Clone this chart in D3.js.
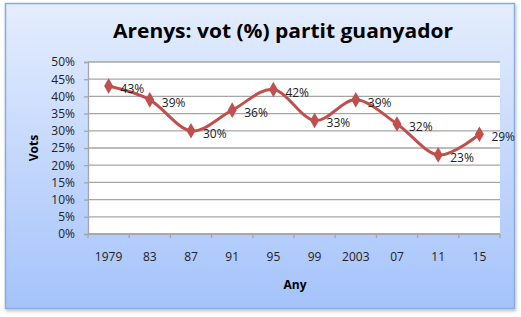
<!DOCTYPE html>
<html><head><meta charset="utf-8">
<script src="https://cdn.jsdelivr.net/npm/d3@7"></script>
<style>html,body{margin:0;padding:0;background:#fff;}svg{display:block;}</style>
</head><body>
<svg id="c" width="521" height="317"></svg>
<script>
const categories = ["1979","83","87","91","95","99","2003","07","11","15"];
const values = [43, 39, 30, 36, 42, 33, 39, 32, 23, 29];
const yTicks = [0,5,10,15,20,25,30,35,40,45,50];
const title = "Arenys: vot (%) partit guanyador";
const xTitle = "Any", yTitle = "Vots";

const svg = d3.select("#c");
const font = "Open Sans, DejaVu Sans, sans-serif";
const defs = svg.append("defs");
const g1 = defs.append("linearGradient").attr("id","bg").attr("x1",0).attr("y1",0).attr("x2",0).attr("y2",1);
g1.append("stop").attr("offset","0%").attr("stop-color","#e4edfd");
g1.append("stop").attr("offset","100%").attr("stop-color","#a5c3fb");
const f = defs.append("filter").attr("id","sh").attr("x","-5%").attr("y","-5%").attr("width","115%").attr("height","115%");
f.append("feDropShadow").attr("dx",1).attr("dy",2).attr("stdDeviation",1.5).attr("flood-color","#000").attr("flood-opacity",0.25);

svg.append("rect").attr("x",5.5).attr("y",3.5).attr("width",509).attr("height",305)
  .attr("fill","url(#bg)").attr("stroke","#88acdf").attr("stroke-width",1.5).attr("filter","url(#sh)");

const L=88, R=500, T=62, B=234;
const x = d3.scaleBand().domain(categories).range([L,R]);
const y = d3.scaleLinear().domain([0,50]).range([B,T]);

svg.append("rect").attr("x",L).attr("y",T).attr("width",R-L).attr("height",B-T).attr("fill","#fff");

// gridlines
svg.append("g").selectAll("line").data(yTicks).join("line")
  .attr("x1",L).attr("x2",R).attr("y1",d=>y(d)).attr("y2",d=>y(d))
  .attr("stroke","#a6a6a6").attr("stroke-width",1.3);

// y axis
const ya = svg.append("g").attr("transform",`translate(${L},0)`)
  .call(d3.axisLeft(y).tickValues(yTicks).tickSize(4).tickPadding(8).tickFormat(d=>d+"%"));
ya.select(".domain").attr("stroke","#a6a6a6").attr("stroke-width",1.3);
ya.selectAll(".tick line").attr("stroke","#a6a6a6").attr("stroke-width",1.3);
ya.selectAll("text").attr("font-family",font).attr("font-size",12).attr("fill","#222").attr("dx",-1);

// x axis
const xa = svg.append("g").attr("transform",`translate(0,${B})`);
xa.append("line").attr("x1",L).attr("x2",R).attr("stroke","#a6a6a6").attr("stroke-width",1.3);
const bounds = categories.map(c=>x(c)).concat([R]);
xa.selectAll("line.t").data(bounds).join("line").attr("class","t")
  .attr("x1",d=>d).attr("x2",d=>d).attr("y1",0).attr("y2",4).attr("stroke","#a6a6a6").attr("stroke-width",1.3);
xa.selectAll("text").data(categories).join("text")
  .attr("x",d=>x(d)+x.bandwidth()/2).attr("y",27).attr("text-anchor","middle")
  .attr("font-family",font).attr("font-size",12).attr("fill","#222").text(d=>d);

// titles
svg.append("text").attr("x",283).attr("y",38).attr("text-anchor","middle")
  .attr("font-family",font).attr("font-weight","bold").attr("font-size",20).attr("fill","#000")
  .attr("textLength",340).attr("lengthAdjust","spacingAndGlyphs").text(title);
svg.append("text").attr("x",295).attr("y",289).attr("text-anchor","middle")
  .attr("font-family",font).attr("font-weight","bold").attr("font-size",12).attr("fill","#000").text(xTitle);
svg.append("text").attr("transform","translate(38,148) rotate(-90)").attr("text-anchor","middle")
  .attr("font-family",font).attr("font-weight","bold").attr("font-size",12).attr("fill","#000").text(yTitle);

// line
const cx = c=>x(c)+x.bandwidth()/2;
const line = d3.line().x((d,i)=>cx(categories[i])).y(d=>y(d)).curve(d3.curveCardinal.tension(0));
svg.append("path").datum(values).attr("d",line).attr("fill","none").attr("stroke","#c0504d").attr("stroke-width",3);
svg.append("g").selectAll("path").data(values).join("path")
  .attr("d",d3.symbol(d3.symbolDiamond,70)())
  .attr("transform",(d,i)=>`translate(${cx(categories[i])},${y(d)})`).attr("fill","#c0504d");
svg.append("g").selectAll("text").data(values).join("text")
  .attr("x",(d,i)=>cx(categories[i])+12).attr("y",d=>y(d)+7)
  .attr("font-family",font).attr("font-size",12).attr("fill","#222").text(d=>d+"%");
</script>
</body></html>
